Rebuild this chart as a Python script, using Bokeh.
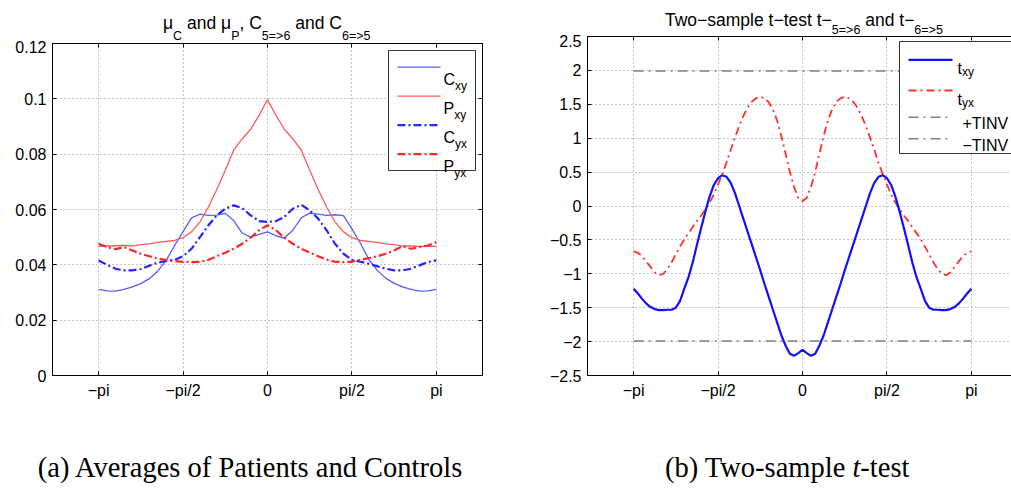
import math
from bokeh.plotting import figure
from bokeh.layouts import row, column
from bokeh.models import FixedTicker, CustomJSTickFormatter, LinearAxis, Label, Range1d, Div
from bokeh.embed import file_html
from bokeh.resources import INLINE

# ---------------- data (x in units of pi) ----------------
x_pi = [-1.0, -0.95, -0.9, -0.85, -0.8, -0.75, -0.7, -0.65, -0.6, -0.55, -0.5,
        -0.45, -0.4, -0.35, -0.3, -0.25, -0.2, -0.15, -0.1, -0.05, 0.0,
        0.05, 0.1, 0.15, 0.2, 0.25, 0.3, 0.35, 0.4, 0.45, 0.5,
        0.55, 0.6, 0.65, 0.7, 0.75, 0.8, 0.85, 0.9, 0.95, 1.0]

c_xy = [0.0311, 0.0306, 0.0305, 0.0311, 0.0320, 0.0332, 0.0350, 0.0377, 0.0416, 0.0470, 0.0520,
        0.0570, 0.0583, 0.0579, 0.0580, 0.0586, 0.0560, 0.0515, 0.0500, 0.0510, 0.0519,
        0.0505, 0.0497, 0.0525, 0.0570, 0.0587, 0.0583, 0.0579, 0.0581, 0.0578, 0.0530,
        0.0478, 0.0420, 0.0380, 0.0352, 0.0333, 0.0320, 0.0311, 0.0305, 0.0306, 0.0311]
p_xy = [0.0467, 0.0468, 0.0469, 0.0470, 0.0468, 0.0473, 0.0476, 0.0481, 0.0485, 0.0488, 0.0498,
        0.0519, 0.0555, 0.0609, 0.0672, 0.0742, 0.0815, 0.0855, 0.0890, 0.0940, 0.0997,
        0.0940, 0.0890, 0.0855, 0.0815, 0.0742, 0.0672, 0.0609, 0.0555, 0.0519, 0.0498,
        0.0488, 0.0485, 0.0481, 0.0476, 0.0473, 0.0468, 0.0468, 0.0467, 0.0467, 0.0467]
c_yx = [0.0416, 0.0400, 0.0386, 0.0380, 0.0380, 0.0385, 0.0397, 0.0408, 0.0414, 0.0418, 0.0431,
        0.0458, 0.0500, 0.0543, 0.0579, 0.0603, 0.0615, 0.0605, 0.0579, 0.0558, 0.0555,
        0.0558, 0.0573, 0.0603, 0.0617, 0.0597, 0.0567, 0.0525, 0.0476, 0.0440, 0.0418,
        0.0411, 0.0404, 0.0395, 0.0386, 0.0380, 0.0380, 0.0386, 0.0398, 0.0410, 0.0416]
p_yx = [0.0476, 0.0464, 0.0457, 0.0464, 0.0452, 0.0440, 0.0431, 0.0423, 0.0417, 0.0414, 0.0411,
        0.0410, 0.0411, 0.0418, 0.0431, 0.0444, 0.0458, 0.0476, 0.0498, 0.0525, 0.0543,
        0.0525, 0.0498, 0.0476, 0.0458, 0.0444, 0.0431, 0.0419, 0.0411, 0.0410, 0.0411,
        0.0418, 0.0424, 0.0431, 0.0440, 0.0452, 0.0467, 0.0458, 0.0464, 0.0470, 0.0482]

x_pi_t = [-1.0, -0.975, -0.95, -0.925, -0.9, -0.875, -0.85, -0.825, -0.8, -0.775,
          -0.75, -0.725, -0.7, -0.675, -0.65, -0.625, -0.6, -0.575, -0.55, -0.525,
          -0.5, -0.475, -0.45, -0.425, -0.4, -0.375, -0.35, -0.325, -0.3, -0.275,
          -0.25, -0.225, -0.2, -0.175, -0.15, -0.125, -0.1, -0.075, -0.05, -0.025,
          0.0, 0.025, 0.05, 0.075, 0.1, 0.125, 0.15, 0.175, 0.2, 0.225,
          0.25, 0.275, 0.3, 0.325, 0.35, 0.375, 0.4, 0.425, 0.45, 0.475,
          0.5, 0.525, 0.55, 0.575, 0.6, 0.625, 0.65, 0.675, 0.7, 0.725,
          0.75, 0.775, 0.8, 0.825, 0.85, 0.875, 0.9, 0.925, 0.95, 0.975, 1.0]
t_xy = [-1.22, -1.29, -1.37, -1.44, -1.49, -1.52, -1.535, -1.535, -1.53, -1.53,
        -1.50, -1.40, -1.22, -1.05, -0.83, -0.57, -0.32, -0.08, 0.14, 0.31,
        0.41, 0.455, 0.43, 0.34, 0.19, 0.00, -0.19, -0.38, -0.57, -0.76,
        -0.95, -1.15, -1.34, -1.53, -1.72, -1.91, -2.06, -2.18, -2.21, -2.17,
        -2.12, -2.17, -2.21, -2.18, -2.06, -1.91, -1.72, -1.53, -1.34, -1.15,
        -0.95, -0.76, -0.57, -0.38, -0.19, 0.00, 0.19, 0.34, 0.43, 0.455,
        0.41, 0.31, 0.14, -0.08, -0.32, -0.57, -0.83, -1.05, -1.22, -1.40,
        -1.50, -1.53, -1.53, -1.535, -1.535, -1.52, -1.49, -1.44, -1.37, -1.29, -1.22]
t_yx = [-0.67, -0.69, -0.74, -0.82, -0.90, -0.98, -1.02, -1.00, -0.93, -0.83,
        -0.71, -0.60, -0.49, -0.40, -0.31, -0.22, -0.14, -0.05, 0.05, 0.17,
        0.32, 0.47, 0.64, 0.83, 1.01, 1.18, 1.33, 1.45, 1.54, 1.59,
        1.61, 1.59, 1.53, 1.42, 1.26, 1.03, 0.77, 0.50, 0.28, 0.12,
        0.07, 0.12, 0.28, 0.50, 0.77, 1.03, 1.26, 1.42, 1.53, 1.59,
        1.61, 1.59, 1.54, 1.45, 1.33, 1.18, 1.01, 0.83, 0.64, 0.47,
        0.32, 0.17, 0.05, -0.05, -0.14, -0.22, -0.31, -0.40, -0.49, -0.60,
        -0.71, -0.83, -0.93, -1.00, -1.02, -0.98, -0.90, -0.82, -0.74, -0.69, -0.67]
tinv_x = [-1.0, 1.0]
tinv_pos = [1.99, 1.99]
tinv_neg = [-1.99, -1.99]

x_ticks = [-1.0, -0.5, 0.0, 0.5, 1.0]
x_tick_labels = ["\u2212pi", "\u2212pi/2", "0", "pi/2", "pi"]
y1_ticks = [0.0, 0.02, 0.04, 0.06, 0.08, 0.1, 0.12]
y1_tick_labels = ["0", "0.02", "0.04", "0.06", "0.08", "0.1", "0.12"]
y2_ticks = [-2.5, -2.0, -1.5, -1.0, -0.5, 0.0, 0.5, 1.0, 1.5, 2.0, 2.5]
y2_tick_labels = ["\u22122.5", "\u22122", "\u22121.5", "\u22121", "\u22120.5", "0",
                  "0.5", "1", "1.5", "2", "2.5"]

# ---------------- layout constants (page pixels) ----------------
PAGE_H = 491
FRAME_BOTTOM = 375
HC = 41                                   # caption row height
HT1, FT1 = 40, 43                         # left: title height, frame top (page y)
HT2, FT2 = 34, 36                         # right: title height, frame top (page y)
HF1 = PAGE_H - HT1 - HC
HF2 = PAGE_H - HT2 - HC
B = PAGE_H - HC - FRAME_BOTTOM            # bottom border of both figures
W1, L1, R1 = 530, 52, 48
W2, L2, R2 = 481, 57, 0
X0 = -4 / math.pi
PPU = (W1 - L1 - R1) / (8 / math.pi)
X1_END = -X0
X2_END = X0 + (W2 - L2 - R2) / PPU
Y1 = (0.0, 0.12)
Y2 = (-2.5, 2.5)

SANS = "Liberation Sans"
SERIF = "Liberation Serif"


# page-pixel -> data helpers (positions of legend pieces only)
def dx1(px):
    return X0 + (px - L1) / PPU


def dy1(py):
    return Y1[1] - (py - FT1) / (FRAME_BOTTOM - FT1) * (Y1[1] - Y1[0])


def dx2(px):
    return X0 + (px - W1 - L2) / PPU


def dy2(py):
    return Y2[1] - (py - FT2) / (FRAME_BOTTOM - FT2) * (Y2[1] - Y2[0])


def lookup_fmt(ticks, labels):
    return CustomJSTickFormatter(args=dict(tv=ticks, tl=labels), code="""
for (let i = 0; i < tv.length; i++) { if (Math.abs(tv[i] - tick) < 1e-9) return tl[i]; }
return "";
""")


def style_axis(ax, ticks, fmt, blank=False):
    ax.ticker = FixedTicker(ticks=ticks)
    ax.formatter = fmt
    ax.major_tick_in = 4
    ax.major_tick_out = 0
    ax.minor_tick_line_color = None
    ax.axis_line_color = "black"
    ax.major_tick_line_color = "black"
    ax.major_label_text_font = SANS
    ax.major_label_text_color = "black"
    if blank:
        ax.major_label_text_font_size = "1px"
        ax.major_label_standoff = 0
    else:
        ax.major_label_text_font_size = "16px"
        ax.major_label_standoff = 6


def make_fig(width, height, left, right, top, xr, yr, xt, yt, yfmt):
    p = figure(width=width, height=height, x_range=Range1d(*xr), y_range=Range1d(*yr),
               output_backend="svg", toolbar_location=None,
               min_border_left=left, min_border_right=right,
               min_border_top=top, min_border_bottom=B)
    p.outline_line_color = "black"
    p.background_fill_color = "white"
    p.border_fill_color = None
    style_axis(p.xaxis[0], xt, lookup_fmt(x_ticks, x_tick_labels))
    style_axis(p.yaxis[0], yt, yfmt)
    top_ax = LinearAxis()
    style_axis(top_ax, xt, CustomJSTickFormatter(code="return '';"), blank=True)
    p.add_layout(top_ax, "above")
    for g, t in ((p.xgrid[0], xt), (p.ygrid[0], yt)):
        g.ticker = FixedTicker(ticks=t)
        g.grid_line_color = "#8c8c8c"
        g.grid_line_dash = "1 3"
        g.grid_line_width = 1
    return p


def lab(p, x, y, text, size):
    p.add_layout(Label(x=x, y=y, text=text, text_font=SANS, text_font_size=size,
                       text_color="black", text_baseline="alphabetic", text_align="left"))


def html_box(width, height, inner):
    return Div(text=f'<div style="position:relative;width:{width}px;height:{height}px;'
                    f'overflow:visible;color:black;">{inner}</div>',
               width=width, height=height, margin=0, styles={"overflow": "visible"})


def sub(t, drop):
    return f'<span style="font-size:12.5px;position:relative;top:{drop}px;">{t}</span>'


# ---------------- left panel ----------------
p1 = make_fig(W1, HF1, L1, R1, FT1 - HT1, (X0, X1_END), Y1, x_ticks, y1_ticks,
              lookup_fmt(y1_ticks, y1_tick_labels))
right_ax = LinearAxis()
style_axis(right_ax, y1_ticks, CustomJSTickFormatter(code="return '';"), blank=True)
p1.add_layout(right_ax, "right")

s_cxy = dict(line_color="#5a5aff", line_width=1.3)
s_pxy = dict(line_color="#ff5a5a", line_width=1.3)
s_cyx = dict(line_color="#2424ff", line_width=2.2, line_dash="8 3 2 3")
s_pyx = dict(line_color="#ff2424", line_width=2.2, line_dash="8 3 2 3")
p1.line(x_pi, c_xy, **s_cxy)
p1.line(x_pi, p_xy, **s_pxy)
p1.line(x_pi, c_yx, **s_cyx)
p1.line(x_pi, p_yx, **s_pyx)

# legend (left)
p1.quad(left=[dx1(388)], right=[dx1(475)], top=[dy1(50)], bottom=[dy1(170)],
        fill_color="white", line_color="#333333", line_width=1)
for i, (st, main, sb) in enumerate([(s_cxy, "C", "xy"), (s_pxy, "P", "xy"),
                                    (s_cyx, "C", "yx"), (s_pyx, "P", "yx")]):
    ly = 66.7 + 29 * i
    p1.line([dx1(397), dx1(440)], [dy1(ly), dy1(ly)], **st)
    lab(p1, dx1(443), dy1(ly + 12), main, "16px")
    w = 11.6 if main == "C" else 10.7
    lab(p1, dx1(443 + w), dy1(ly + 19), sb, "12px")

# ---------------- right panel ----------------
p2 = make_fig(W2, HF2, L2, R2, FT2 - HT2, (X0, X2_END), Y2, x_ticks, y2_ticks,
              lookup_fmt(y2_ticks, y2_tick_labels))
p2.outline_line_color = None

s_txy = dict(line_color="#1010ff", line_width=2.2)
s_tyx = dict(line_color="#ff3030", line_width=1.8, line_dash="8 4 2 4")
s_tinv = dict(line_color="#808080", line_width=1.5, line_dash="10 5 2 5")
p2.line(tinv_x, tinv_pos, **s_tinv)
p2.line(tinv_x, tinv_neg, **s_tinv)
p2.line(x_pi_t, t_yx, **s_tyx)
p2.line(x_pi_t, t_xy, **s_txy)

# legend (right)
p2.quad(left=[dx2(899)], right=[dx2(1040)], top=[dy2(41)], bottom=[dy2(153)],
        fill_color="white", line_color="#333333", line_width=1)
for ly, st, main, sb in [(59.3, s_txy, "t", "xy"), (90, s_tyx, "t", "yx")]:
    p2.line([dx2(908), dx2(952)], [dy2(ly), dy2(ly)], **st)
    lab(p2, dx2(957), dy2(ly + 8.5), main, "16px")
    lab(p2, dx2(961.5), dy2(ly + 12.5), sb, "12px")
for ly, txt in [(116.7, "+TINV"), (138.3, "\u2212TINV")]:
    p2.line([dx2(908), dx2(952)], [dy2(ly), dy2(ly)], **s_tinv)
    lab(p2, dx2(962), dy2(ly + 6.5), txt, "16px")

# ---------------- titles and captions (HTML text) ----------------
title_style = f"position:absolute;white-space:nowrap;font-family:'{SANS}';font-size:17.5px;line-height:20px;"
t1_inner = (f'<div style="{title_style}left:163px;top:13px;">'
            f'\u03bc{sub("C", 11)} and \u03bc{sub("P", 11)}, C{sub("5=&gt;6", 11)} and C{sub("6=&gt;5", 11)}'
            f'</div>')
t2_inner = (f'<div style="{title_style}left:{665 - W1}px;top:10px;">'
            f'Two\u2212sample t\u2212test t\u2212{sub("5=&gt;6", 8)} and t\u2212{sub("6=&gt;5", 8)}'
            f'</div>')
cap_style = f"position:absolute;white-space:nowrap;font-family:'{SERIF}';font-size:28.5px;line-height:32px;"
c1_inner = (f'<div style="{cap_style}left:0px;width:500px;text-align:center;top:2px;">'
            f'(a) Averages of Patients and Controls</div>')
c2_inner = (f'<div style="{cap_style}left:{665 - W1}px;top:2px;">'
            f'(b) Two-sample <i>t</i>-test</div>')

left_col = column(html_box(W1, HT1, t1_inner), p1, html_box(W1, HC, c1_inner), spacing=0)
right_col = column(html_box(W2, HT2, t2_inner), p2, html_box(W2, HC, c2_inner), spacing=0)
layout = row(left_col, right_col, spacing=0)

open("out.html", "w").write(file_html(layout, INLINE))
